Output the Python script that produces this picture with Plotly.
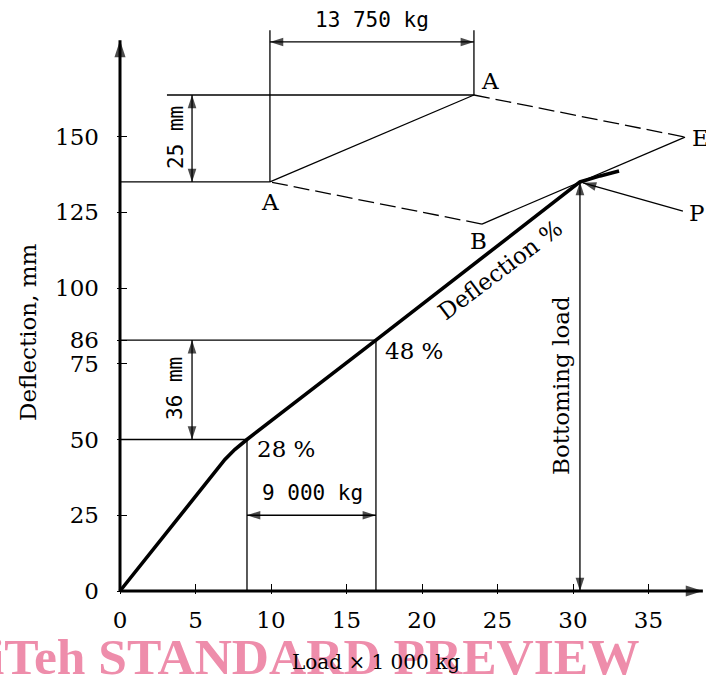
import math
import plotly.graph_objects as go

# ---------------- data ----------------
load_curve = [0, 6.95, 7.6, 8.41, 16.95, 30.46, 31.8, 33.05]        # load x 1000 kg
defl_curve = [0, 43.4, 46.7, 50.0, 82.8, 135.0, 137.0, 138.6]       # deflection, mm

x_tick_vals = [0, 5, 10, 15, 20, 25, 30, 35]
y_tick_vals = [0, 25, 50, 75, 82.8, 100, 125, 150]
y_tick_text = ["0", "25", "50", "75", "86", "100", "125", "150"]

pt28 = (8.41, 50.0)        # 28 % point
pt48 = (16.95, 82.8)       # 48 % point
ptP = (30.46, 135.0)       # bottoming point P
quadA1 = (9.93, 135.0)
quadA2 = (23.44, 163.7)
quadE = (37.42, 149.8)
quadB = (23.97, 121.1)
P_label_pt = (37.28, 125.4)
P_head_pt = (30.66, 134.7)
dim_x_left = 4.77          # x of vertical dimension arrows
dim_y_9000 = 25.0          # y of 9 000 kg arrow
dim_y_13750 = 181.2        # y of 13 750 kg arrow
ext_top = 185.1            # top of the extension lines
h163_start = 3.11
x_axis_end = 38.6
y_axis_end = 181.8

# ---------------- layout geometry ----------------
W, H = 706, 677
ML, MB = 117, 83
SX, SY = 15.1, 3.03        # px per unit
x0 = -3 / SX
y0 = -3 / SY
x_range = [x0, x0 + (W - ML) / SX]
y_range = [y0, y0 + (H - MB) / SY]


def paper_x(px):
    return (px - ML) / (W - ML)


def paper_y(py):
    return (H - MB - py) / (H - MB)


SERIF = "DejaVu Serif"
MONO = "DejaVu Sans Mono"

fig = go.Figure()


def seg_trace(segs, width=1.3, dash="solid"):
    xs, ys = [], []
    for (a, b) in segs:
        xs += [a[0], b[0], None]
        ys += [a[1], b[1], None]
    return go.Scatter(x=xs, y=ys, mode="lines",
                      line=dict(color="black", width=width, dash=dash),
                      hoverinfo="skip", showlegend=False)


thin = [
    ((0, pt28[1]), pt28),
    ((pt28[0], 0), pt28),
    ((0, pt48[1]), pt48),
    ((pt48[0], 0), pt48),
    ((dim_x_left, pt28[1]), (dim_x_left, pt48[1])),
    ((pt28[0], dim_y_9000), (pt48[0], dim_y_9000)),
    ((ptP[0], 0), ptP),
    (P_label_pt, P_head_pt),
    ((0, quadA1[1]), quadA1),
    ((h163_start, quadA2[1]), quadA2),
    ((dim_x_left, quadA1[1]), (dim_x_left, quadA2[1])),
    (quadA1, (quadA1[0], ext_top)),
    (quadA2, (quadA2[0], ext_top)),
    ((quadA1[0], dim_y_13750), (quadA2[0], dim_y_13750)),
    (quadA1, quadA2),
    (quadE, quadB),
]
fig.add_trace(seg_trace(thin, 1.3))
fig.add_trace(seg_trace([(quadA2, quadE), (quadB, quadA1)], 1.3, "16px,6px"))
# axes
fig.add_trace(seg_trace([((0, 0), (x_axis_end, 0)), ((0, 0), (0, y_axis_end))], 3))
# curve
fig.add_trace(go.Scatter(x=load_curve, y=defl_curve, mode="lines",
                         line=dict(color="black", width=3.6, shape="linear"),
                         hoverinfo="skip", showlegend=False))

# arrowheads (angle clockwise from up)
ah_x, ah_y, ah_a, ah_s = [], [], [], []


def head(pt, ang, size=14):
    ah_x.append(pt[0]); ah_y.append(pt[1]); ah_a.append(ang); ah_s.append(size)


head((dim_x_left, pt48[1]), 0); head((dim_x_left, pt28[1]), 180)
head((pt28[0], dim_y_9000), 270); head((pt48[0], dim_y_9000), 90)
head(ptP, 0); head((ptP[0], 0), 180)
head((dim_x_left, quadA2[1]), 0); head((dim_x_left, quadA1[1]), 180)
head((quadA1[0], dim_y_13750), 270); head((quadA2[0], dim_y_13750), 90)
dxp = (P_head_pt[0] - P_label_pt[0]) * SX
dyp = -(P_head_pt[1] - P_label_pt[1]) * SY
head(P_head_pt, math.degrees(math.atan2(dxp, -dyp)))
head((x_axis_end, 0), 90, 18)
head((0, y_axis_end), 0, 18)

fig.add_trace(go.Scatter(x=ah_x, y=ah_y, mode="markers", cliponaxis=False,
                         marker=dict(symbol="arrow", size=ah_s, angle=ah_a,
                                     color="black", line=dict(width=0)),
                         hoverinfo="skip", showlegend=False))

ann = []


def txt(x, y, s, font=SERIF, size=23, angle=0, ref="data", color="black", xanchor="center"):
    d = dict(x=x, y=y, text=s, showarrow=False, textangle=angle,
             font=dict(family=font, size=size, color=color),
             xanchor=xanchor, yanchor="middle")
    if ref == "paper":
        d.update(xref="paper", yref="paper")
    else:
        d.update(xref="x", yref="y")
    ann.append(d)


def dx(px):
    return (px - ML) / SX + x0


def dy(py):
    return (H - MB - py) / SY + y0


txt(dx(372), dy(20), "13 750 kg", MONO, 21)
txt(dx(176), dy(138), "25 mm", MONO, 21, -90)
txt(dx(175), dy(389), "36 mm", MONO, 21, -90)
txt(dx(312), dy(493), "9 000 kg", MONO, 21)
txt(dx(270), dy(202), "A")
txt(dx(490), dy(81), "A")
txt(dx(700), dy(138), "E")
txt(dx(696), dy(213), "P")
txt(dx(478), dy(241), "B")
txt(dx(414), dy(351), "48 %")
txt(dx(286), dy(449), "28 %")
txt(dx(500), dy(270), "Deflection %", angle=-37)
txt(dx(561), dy(386), "Bottoming load", angle=-90)
txt(paper_x(28), paper_y(332), "Deflection, mm", size=23, angle=-90, ref="paper")
txt(paper_x(315), paper_y(656), "<b>iTeh STANDARD PREVIEW</b>", "Liberation Serif", 51.5,
    ref="paper", color="#ee8dab")
txt(paper_x(376), paper_y(662), "Load × 1 000 kg", size=20, ref="paper")

fig.update_layout(
    width=W, height=H,
    margin=dict(l=ML, r=0, t=0, b=MB, pad=0),
    plot_bgcolor="white", paper_bgcolor="white",
    showlegend=False, hovermode=False,
    annotations=ann,
    xaxis=dict(range=x_range, tickvals=x_tick_vals, ticks="inside", ticklen=10,
               tickwidth=1.3, tickcolor="black", showgrid=False, zeroline=False,
               showline=False, tickfont=dict(family=SERIF, size=23, color="black"),
               ticklabelstandoff=10, automargin=False),
    yaxis=dict(range=y_range, tickvals=y_tick_vals, ticktext=y_tick_text,
               ticks="inside", ticklen=10, tickwidth=1.3, tickcolor="black",
               showgrid=False, zeroline=False, showline=False,
               tickfont=dict(family=SERIF, size=23, color="black"),
               ticklabelstandoff=17, automargin=False),
)

fig.write_html("out.html", config={"displayModeBar": False},
               post_script="document.body.style.margin='0px';")
